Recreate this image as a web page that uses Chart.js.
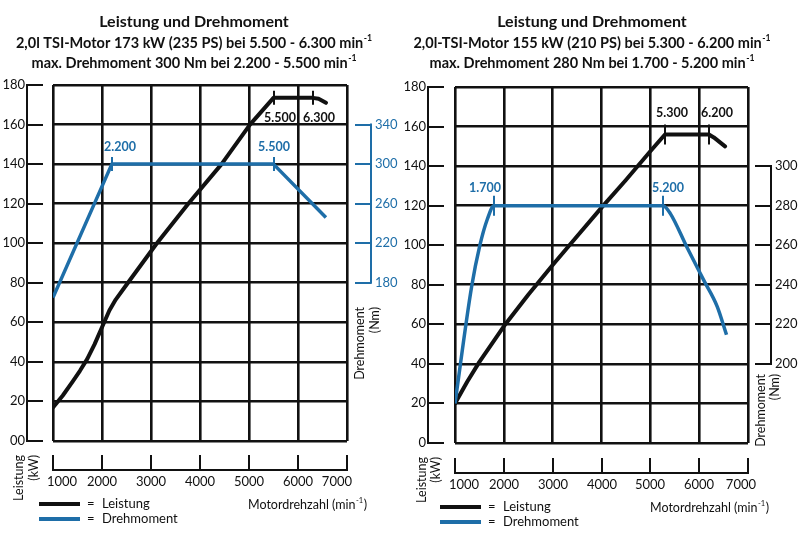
<!DOCTYPE html>
<html><head><meta charset="utf-8">
<script src="https://cdn.jsdelivr.net/npm/chart.js@4/dist/chart.umd.min.js"></script>
<style>
html,body{margin:0;padding:0;background:#fff;}
#wrap{position:relative;width:800px;height:535px;overflow:hidden;}
canvas{position:absolute;top:0;}
</style></head><body>
<div id="wrap">
<canvas id="c1" width="400" height="535" style="left:0px"></canvas>
<canvas id="c2" width="400" height="535" style="left:400px"></canvas>
</div>
<script>
// ---------- DATA ----------
const rpmTicks = [1000, 2000, 3000, 4000, 5000, 6000, 7000];
const rpmTickLabels = ['1000', '2000', '3000', '4000', '5000', '6000', '7000'];
const kwTicks = [0, 20, 40, 60, 80, 100, 120, 140, 160, 180];
const kwTickLabelsA = ['00', '20', '40', '60', '80', '100', '120', '140', '160', '180'];
const kwTickLabelsB = ['0', '20', '40', '60', '80', '100', '120', '140', '160', '180'];
const nmTicksA = [180, 220, 260, 300, 340];
const nmTicksB = [200, 220, 240, 260, 280, 300];

const titleA1 = 'Leistung und Drehmoment';
const titleA2 = '2,0l TSI-Motor 173 kW (235 PS) bei 5.500 - 6.300 min';
const titleA3 = 'max. Drehmoment 300 Nm bei 2.200 - 5.500 min';
const titleB1 = 'Leistung und Drehmoment';
const titleB2 = '2,0l-TSI-Motor 155 kW (210 PS) bei 5.300 - 6.200 min';
const titleB3 = 'max. Drehmoment 280 Nm bei 1.700 - 5.200 min';
const supText = '-1';

// Chart A: 2,0l TSI 173 kW
const rpmPowerA = [1000, 1200, 1400, 1550, 1700, 1850, 2000, 2150, 2280, 2500, 3120, 3760, 4440, 5020, 5500, 6300, 6420, 6570];
const powerA    = [17, 23, 30, 35.5, 41.5, 49, 57.5, 66, 71.5, 79, 100, 120, 140, 160, 173.5, 173.5, 173, 171];
const rpmTorqueA = [1000, 2200, 5500, 6570];
const torqueA    = [165, 300, 300, 246];
const markTorqueRpmA = [2200, 5500];
const markTorqueLblA = ['2.200', '5.500'];
const markTorqueValA = 300;
const markPowerRpmA = [5500, 6300];
const markPowerLblA = ['5.500', '6.300'];
const markPowerValA = 173.5;

// Chart B: 2,0l TSI 155 kW
const rpmPowerB = [1000, 1250, 1500, 2000, 2500, 3000, 3500, 4000, 4500, 5000, 5300, 6200, 6300, 6530];
const powerB    = [20, 31, 41, 59, 75, 90, 104.5, 119, 133, 147.5, 156, 156, 154.5, 150];
const rpmTorqueB = [1000, 1340, 1510, 1660, 1800, 5260, 5410, 5750, 6090, 6370, 6560];
const torqueB    = [180, 239, 260, 273, 280, 280, 276, 259, 242.5, 229, 214.7];
const markTorqueRpmB = [1790, 5260];
const markTorqueLblB = ['1.700', '5.200'];
const markTorqueValB = 280;
const markPowerRpmB = [5300, 6200];
const markPowerLblB = ['5.300', '6.200'];
const markPowerValB = 156;

const legendLabels = ['Leistung', 'Drehmoment'];
const xAxisTitle = 'Motordrehzahl (min';
const yAxisTitle = ['Leistung', '(kW)'];
const y2AxisTitle = ['Drehmoment', '(Nm)'];

// ---------- STYLE ----------
const BLACK = '#111111';
const BLUE = '#1e6ea8';
const FF = 'Lato, "Noto Sans", "DejaVu Sans", sans-serif';
const f = (sz, w) => `${w || 'normal'} ${sz}px ${FF}`;

function seg(c, x1, y1, x2, y2) { c.beginPath(); c.moveTo(x1, y1); c.lineTo(x2, y2); c.stroke(); }
function txt(c, s, x, y, font, color, align, base) {
  c.font = font; c.fillStyle = color; c.textAlign = align || 'left'; c.textBaseline = base || 'middle'; c.fillText(s, x, y);
}
function rich(c, s, sup, x, y, size, weight, color, align) {
  c.font = f(size, weight); const w1 = c.measureText(s).width;
  c.font = f(size * 0.6, weight); const w2 = sup ? c.measureText(sup).width + 0.5 : 0;
  const total = w1 + w2;
  let sx = x;
  if (align === 'center') sx = x - total / 2;
  c.textAlign = 'left'; c.textBaseline = 'alphabetic'; c.fillStyle = color;
  c.font = f(size, weight); c.fillText(s, sx, y);
  if (sup) { c.font = f(size * 0.6, weight); c.fillText(sup, sx + w1 + 0.5, y - size * 0.45); }
  return total;
}
function vtext(c, s, x, yTop, font, color) {
  c.save(); c.translate(x, yTop); c.rotate(-Math.PI / 2);
  c.font = font; c.fillStyle = color; c.textAlign = 'right'; c.textBaseline = 'middle';
  c.fillText(s, 0, 0); c.restore();
}

function decor(o) {
  return {
    id: 'decor',
    afterDraw(chart) {
      const c = chart.ctx, X = chart.scales.x, Y = chart.scales.y, Y2 = chart.scales.y2;
      c.save();
      c.lineCap = 'butt';
      // titles
      rich(c, o.titles[0], null, o.titleX, 27, 16, 'bold', BLACK, 'center');
      rich(c, o.titles[1], supText, o.titleX, 48, 14.5, 'bold', BLACK, 'center');
      rich(c, o.titles[2], supText, o.titleX, 68, 14.5, 'bold', BLACK, 'center');

      // left (kW) axis, detached
      c.strokeStyle = BLACK; c.lineWidth = 2;
      const yTop = Y.getPixelForValue(180), yBot = Y.getPixelForValue(0);
      seg(c, o.lAxisX, yTop - 1, o.lAxisX, yBot + 1);
      kwTicks.forEach((v, i) => {
        const py = Math.round(Y.getPixelForValue(v));
        seg(c, o.lAxisX, py, o.lAxisX + 16, py);
        txt(c, o.kwLabels[i], o.lAxisX - 2, py, f(13), BLACK, 'right');
      });

      // bottom (rpm) axis, detached
      const xL = X.getPixelForValue(1000), xR = X.getPixelForValue(7000);
      seg(c, xL - 1, o.bAxisY, xR + 1, o.bAxisY);
      rpmTicks.forEach((v, i) => {
        const px = Math.round(X.getPixelForValue(v));
        seg(c, px, o.bAxisY, px, o.bAxisY - 15);
        let align = 'center', lx = px;
        if (i === 0) { align = 'left'; lx = px - 6; }
        if (i === rpmTicks.length - 1) { align = 'right'; lx = px + o.lastDx; }
        txt(c, rpmTickLabels[i], lx, o.bAxisY + 12, f(13), BLACK, align);
      });

      // right (Nm) axis
      c.strokeStyle = o.nmColor;
      const nT = o.nmTicks;
      const yn1 = Y2.getPixelForValue(nT[nT.length - 1]), yn0 = Y2.getPixelForValue(nT[0]);
      seg(c, o.rAxisX, yn1 - 1, o.rAxisX, yn0 + 1);
      nT.forEach(v => {
        const py = Math.round(Y2.getPixelForValue(v));
        seg(c, o.rAxisX - 16, py, o.rAxisX, py);
        txt(c, String(v), o.rAxisX + 4, py, f(13), o.nmColor, 'left');
      });

      // markers
      const markers = (rpms, lbls, val, scale, color, dxs, dy, half) => {
        c.strokeStyle = color; c.lineWidth = 2;
        rpms.forEach((r, i) => {
          const px = Math.round(X.getPixelForValue(r)), py = scale.getPixelForValue(val);
          seg(c, px, py - half, px, py + half);
          txt(c, lbls[i], px + dxs[i], py + dy, f(12.5, 'bold'), color, 'center');
        });
      };
      markers(o.mtRpm, o.mtLbl, o.mtVal, Y2, BLUE, o.mtDx, o.mtDy, o.mHalf);
      markers(o.mpRpm, o.mpLbl, o.mpVal, Y, BLACK, o.mpDx, o.mpDy, o.mHalf);

      // axis titles
      vtext(c, yAxisTitle[0], o.ytX[0], o.ytTop, f(12.5), BLACK);
      vtext(c, yAxisTitle[1], o.ytX[1], o.ytTop, f(12.5), BLACK);
      vtext(c, y2AxisTitle[0], o.y2tX[0], o.y2tTop, f(12.5), BLACK);
      vtext(c, y2AxisTitle[1], o.y2tX[1], o.y2tTop, f(12.5), BLACK);
      const tw = rich(c, xAxisTitle, supText, o.xtX, o.legY + 4.5, 12.5, 'normal', BLACK, 'left');
      c.font = f(12.5); c.fillText(')', o.xtX + tw + 0.5, o.legY + 4.5);

      // legend
      c.lineWidth = 4;
      c.strokeStyle = BLACK; seg(c, o.legX, o.legY, o.legX + 41, o.legY);
      c.strokeStyle = BLUE; seg(c, o.legX, o.legY + 15, o.legX + 41, o.legY + 15);
      txt(c, '=', o.legX + 48, o.legY, f(13), BLACK, 'left');
      txt(c, '=', o.legX + 48, o.legY + 15, f(13), BLACK, 'left');
      txt(c, legendLabels[0], o.legX + 63, o.legY, f(13), BLACK, 'left');
      txt(c, legendLabels[1], o.legX + 63, o.legY + 15, f(13), BLACK, 'left');
      c.restore();
    }
  };
}

function makeChart(id, o) {
  return new Chart(document.getElementById(id).getContext('2d'), {
    type: 'line',
    data: {
      datasets: [
        { label: legendLabels[0], data: o.rpmP.map((x, i) => ({ x, y: o.pow[i] })), borderColor: BLACK, borderWidth: 4,
          pointRadius: 0, tension: 0, yAxisID: 'y', order: 2, borderJoinStyle: 'round', borderCapStyle: 'round' },
        { label: legendLabels[1], data: o.rpmT.map((x, i) => ({ x, y: o.tq[i] })), borderColor: BLUE, borderWidth: 3.5,
          pointRadius: 0, tension: 0, cubicInterpolationMode: o.tqMono ? 'monotone' : 'default', yAxisID: 'y2', order: 1,
          borderJoinStyle: 'round' }
      ]
    },
    options: {
      responsive: false, animation: false, events: [],
      layout: { padding: o.pad },
      plugins: { legend: { display: false }, title: { display: false }, tooltip: { enabled: false } },
      scales: {
        x: { type: 'linear', min: 1000, max: 7000, ticks: { stepSize: 1000, display: false },
             grid: { color: BLACK, lineWidth: 2.6, drawTicks: false }, border: { display: false } },
        y: { type: 'linear', min: 0, max: 180, ticks: { stepSize: 20, display: false },
             grid: { color: BLACK, lineWidth: 2.6, drawTicks: false }, border: { display: false } },
        y2: { type: 'linear', position: 'right', display: false, min: o.nmMin, max: o.nmMax }
      }
    },
    plugins: [decor(o)]
  });
}

makeChart('c1', {
  rpmP: rpmPowerA, pow: powerA, rpmT: rpmTorqueA, tq: torqueA, tqMono: false,
  nmMin: 20, nmMax: 380, nmTicks: nmTicksA, nmColor: BLUE, kwLabels: kwTickLabelsA,
  titles: [titleA1, titleA2, titleA3], titleX: 194,
  pad: { left: 53, right: 53, top: 85, bottom: 94 },
  lAxisX: 27, bAxisY: 470, rAxisX: 371, lastDx: 5,
  mtRpm: markTorqueRpmA, mtLbl: markTorqueLblA, mtVal: markTorqueValA, mtDx: [8, 0], mtDy: -17,
  mpRpm: markPowerRpmA, mpLbl: markPowerLblA, mpVal: markPowerValA, mpDx: [6, 6], mpDy: 20, mHalf: 7,
  ytX: [19, 34], ytTop: 455, y2tX: [360, 375], y2tTop: 307,
  xtX: 248, legX: 39, legY: 504
});
makeChart('c2', {
  rpmP: rpmPowerB, pow: powerB, rpmT: rpmTorqueB, tq: torqueB, tqMono: true,
  nmMin: 160, nmMax: 340, nmTicks: nmTicksB, nmColor: BLACK, kwLabels: kwTickLabelsB,
  titles: [titleB1, titleB2, titleB3], titleX: 192,
  pad: { left: 55, right: 52, top: 87, bottom: 92 },
  lAxisX: 28, bAxisY: 473, rAxisX: 371, lastDx: 8,
  mtRpm: markTorqueRpmB, mtLbl: markTorqueLblB, mtVal: markTorqueValB, mtDx: [-9, 5], mtDy: -18,
  mpRpm: markPowerRpmB, mpLbl: markPowerLblB, mpVal: markPowerValB, mpDx: [7, 8], mpDy: -21, mHalf: 10,
  ytX: [22, 36], ytTop: 457, y2tX: [361, 375], y2tTop: 374,
  xtX: 250, legX: 40, legY: 507
});
</script>
</body></html>
